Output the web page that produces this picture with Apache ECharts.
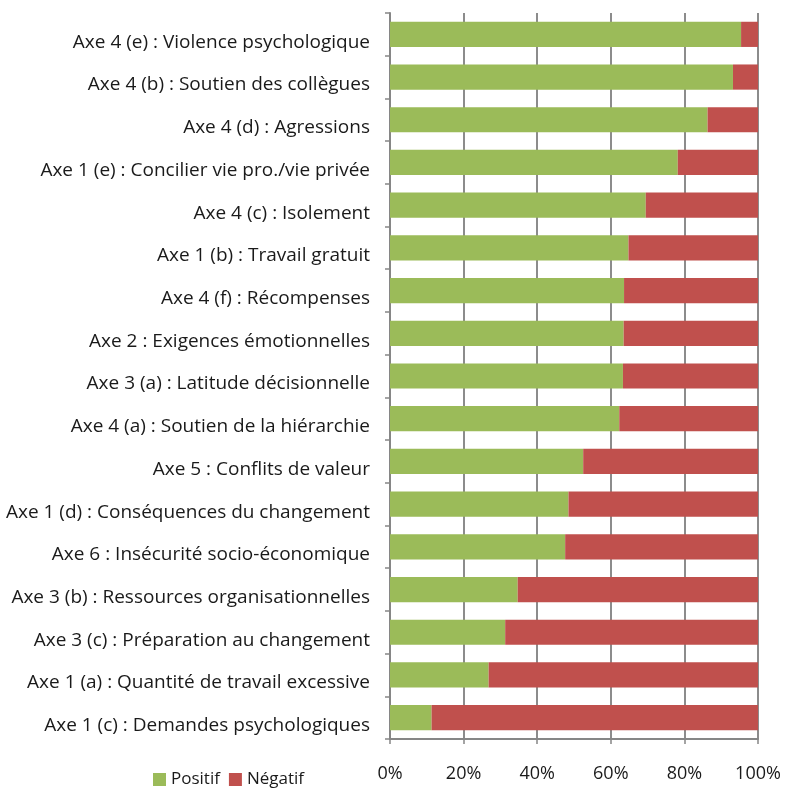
<!DOCTYPE html>
<html><head><meta charset="utf-8">
<script src="https://cdn.jsdelivr.net/npm/echarts@6/dist/echarts.min.js"></script>
<style>html,body{margin:0;padding:0;background:#fff}#c{width:785px;height:788px}</style>
</head><body><div id="c"></div>
<script>
const categories = [
  "Axe 4 (e) : Violence psychologique",
  "Axe 4 (b) : Soutien des collègues",
  "Axe 4 (d) : Agressions",
  "Axe 1 (e) : Concilier vie pro./vie privée",
  "Axe 4 (c) : Isolement",
  "Axe 1 (b) : Travail gratuit",
  "Axe 4 (f) : Récompenses",
  "Axe 2 : Exigences émotionnelles",
  "Axe 3 (a) : Latitude décisionnelle",
  "Axe 4 (a) : Soutien de la hiérarchie",
  "Axe 5 : Conflits de valeur",
  "Axe 1 (d) : Conséquences du changement",
  "Axe 6 : Insécurité socio-économique",
  "Axe 3 (b) : Ressources organisationnelles",
  "Axe 3 (c) : Préparation au changement",
  "Axe 1 (a) : Quantité de travail excessive",
  "Axe 1 (c) : Demandes psychologiques"
];
const positif = [95.4, 93.2, 86.3, 78.2, 69.5, 64.8, 63.6, 63.5, 63.3, 62.3, 52.5, 48.5, 47.6, 34.7, 31.3, 26.8, 11.3];
const negatif = [4.6, 6.8, 13.7, 21.8, 30.5, 35.2, 36.4, 36.5, 36.7, 37.7, 47.5, 51.5, 52.4, 65.3, 68.7, 73.2, 88.7];
const xTicks = [0, 20, 40, 60, 80, 100];

const font = "'Open Sans', sans-serif";
const txt = '#1a1a1a';
const chart = echarts.init(document.getElementById('c'), null, {renderer: 'canvas'});
chart.setOption({
  animation: false,
  grid: {left: 390, right: 27, top: 13, bottom: 49, containLabel: false},
  legend: {
    data: ['Positif', 'Négatif'],
    left: 148, top: 766,
    itemWidth: 13, itemHeight: 13, itemGap: 9,
    icon: 'rect',
    textStyle: {fontFamily: font, fontSize: 17, color: txt}
  },
  xAxis: {
    type: 'value', min: 0, max: 100, interval: 20,
    axisLine: {show: true, lineStyle: {color: '#868686', width: 2}},
    axisTick: {show: true, length: 5, lineStyle: {color: '#868686', width: 1.5}},
    splitLine: {show: true, lineStyle: {color: '#8c8c8c', width: 2}},
    axisLabel: {
      fontFamily: font, fontSize: 18, color: txt, margin: 26,
      formatter: v => xTicks.includes(v) ? v + '%' : ''
    }
  },
  yAxis: {
    type: 'category', data: categories, inverse: true,
    axisLine: {show: true, lineStyle: {color: '#868686', width: 2}},
    axisTick: {show: true, length: 5, lineStyle: {color: '#868686', width: 1.5}},
    axisLabel: {
      margin: 20,
      formatter: v => '{a|' + v + '}',
      rich: {a: {fontFamily: font, fontSize: 19, color: txt, padding: [16, 0, 0, 0]}}
    }
  },
  series: [
    {name: 'Positif', type: 'bar', stack: 's', data: positif, barCategoryGap: '41%',
     itemStyle: {color: '#9BBB59'}},
    {name: 'Négatif', type: 'bar', stack: 's', data: negatif, barCategoryGap: '41%',
     itemStyle: {color: '#C0504D'}}
  ]
});
</script></body></html>
